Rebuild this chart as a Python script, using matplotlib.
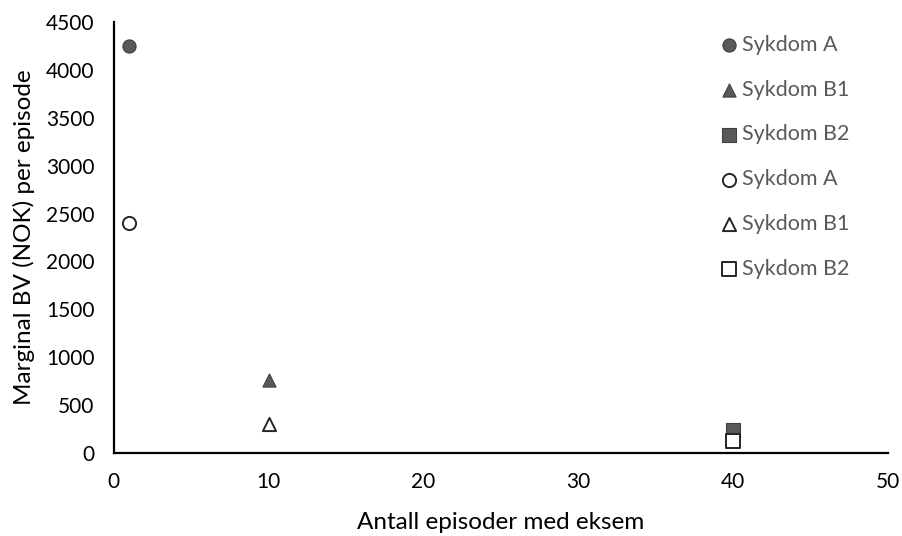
import matplotlib.pyplot as plt

plt.rcParams['font.family'] = ['Lato', 'DejaVu Sans']

# Data per series: x = number of episodes, y = marginal BV per episode
labels = ['Sykdom A', 'Sykdom B1', 'Sykdom B2', 'Sykdom A', 'Sykdom B1', 'Sykdom B2']
x_vals = [1, 10, 40, 1, 10, 40]
y_vals = [4250, 760, 235, 2400, 300, 120]
markers = ['o', '^', 's', 'o', '^', 's']
filled = [True, True, True, False, False, False]

fig = plt.figure(figsize=(9.03, 5.36), dpi=100)
ax = fig.add_axes([0.126, 0.155, 0.857, 0.804])

for lab, x, y, m, f in zip(labels, x_vals, y_vals, markers, filled):
    if f:
        ax.scatter([x], [y], marker=m, s=90, color='#595959', edgecolor='#404040',
                   linewidth=0.8, label=lab, zorder=3)
    else:
        ax.scatter([x], [y], marker=m, s=90, facecolor='white', edgecolor='#262626',
                   linewidth=1.4, label=lab, zorder=3)

ax.set_xlim(0, 50)
ax.set_ylim(0, 4500)
ax.set_xticks(range(0, 51, 10))
ax.set_yticks(range(0, 4501, 500))
ax.tick_params(length=0, labelsize=15)
ax.tick_params(axis='x', pad=14)
ax.tick_params(axis='y', pad=14)

for side in ['top', 'right']:
    ax.spines[side].set_visible(False)
for side in ['left', 'bottom']:
    ax.spines[side].set_linewidth(1.6)

ax.set_xlabel('Antall episoder med eksem', fontsize=17.5, labelpad=14)
ax.set_ylabel('Marginal BV (NOK) per episode', fontsize=17.5, labelpad=8)

leg = ax.legend(loc='upper right', frameon=False, fontsize=15.5, labelspacing=1.15,
                handletextpad=0.1, handlelength=1.0, bbox_to_anchor=(0.962, 0.99),
                borderaxespad=0.0, markerscale=1.0)
for t in leg.get_texts():
    t.set_color('#595959')

fig.savefig('out.png', dpi=100)
